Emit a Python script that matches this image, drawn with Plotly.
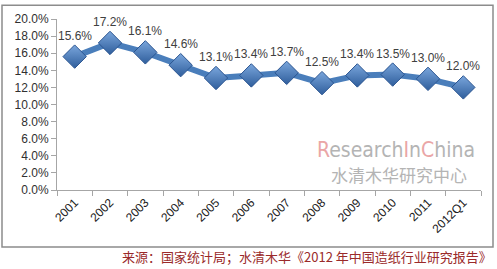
import plotly.graph_objects as go

categories = ["2001", "2002", "2003", "2004", "2005", "2006", "2007", "2008", "2009", "2010", "2011", "2012Q1"]
values = [0.156, 0.172, 0.161, 0.146, 0.131, 0.134, 0.137, 0.125, 0.134, 0.135, 0.130, 0.120]
labels = [f"{v*100:.1f}%" for v in values]
y_ticks = [i * 0.02 for i in range(11)]
y_tick_labels = [f"{t*100:.1f}%" for t in y_ticks]
source_text = "来源：国家统计局；水清木华《2012 年中国造纸行业研究报告》"

W, H = 497, 269
L, R, T, B = 57, 16, 16, 79
pw, ph = W - L - R, H - T - B

def px(x):
    return (x - L) / pw

def py(y):
    return (H - B - y) / ph

fig = go.Figure()
fig.add_trace(go.Scatter(
    x=categories, y=values,
    mode="lines+markers",
    line=dict(color="#4a7ebb", width=6),
    marker=dict(symbol="diamond", size=18, color="#7aa6dc",
                gradient=dict(type="vertical", color="#2f5e9c"),
                line=dict(color="#2b5591", width=1)),
    cliponaxis=False, hoverinfo="skip", showlegend=False,
))

annotations = []
for i, (v, lab) in enumerate(zip(values, labels)):
    annotations.append(dict(x=i, y=v, text=lab, showarrow=False, yshift=21,
                            xanchor="center", yanchor="middle",
                            font=dict(family="Liberation Sans", size=12, color="#404040")))

annotations += [
    dict(xref="paper", yref="paper", x=px(396), y=py(149), xanchor="center", yanchor="middle",
         showarrow=False,
         text="<span style='color:#eaa6a6'>R</span>esearch<span style='color:#eaa6a6'>I</span>n<span style='color:#eaa6a6'>C</span>hina",
         font=dict(family="DejaVu Sans Condensed, Liberation Sans", size=21, color="#b4b4b4")),
    dict(xref="paper", yref="paper", x=px(399), y=py(174), xanchor="center", yanchor="middle",
         showarrow=False, text="水清木华研究中心",
         font=dict(family="Noto Sans CJK SC", size=17, color="#b4b4b4")),
    dict(xref="paper", yref="paper", x=px(494), y=py(258), xanchor="right", yanchor="middle",
         showarrow=False, text=source_text,
         font=dict(family="Noto Sans CJK SC", size=13, color="#9a2a2a")),
]

fig.update_layout(
    width=W, height=H,
    margin=dict(l=L, r=R, t=T, b=B),
    paper_bgcolor="white", plot_bgcolor="white",
    font=dict(family="Liberation Sans", color="#404040"),
    xaxis=dict(
        type="category", range=[-0.5, len(categories) - 0.5],
        showgrid=False, showline=True, linecolor="#a6a6a6", linewidth=1,
        ticks="outside", ticklen=5, tickcolor="#a6a6a6",
        tickson="boundaries", tickangle=-45,
        tickfont=dict(family="Liberation Sans", size=12, color="#202020"),
    ),
    yaxis=dict(
        range=[0, 0.2], tickvals=y_ticks, ticktext=y_tick_labels,
        showgrid=False, zeroline=False, showline=True, linecolor="#a6a6a6", linewidth=1,
        ticks="outside", ticklen=5, tickcolor="#a6a6a6",
        tickfont=dict(family="Liberation Sans", size=12, color="#303030"),
    ),
    shapes=[dict(type="rect", xref="paper", yref="paper",
                 x0=px(2), x1=px(493), y0=py(248), y1=py(2),
                 line=dict(color="#8c8c8c", width=1.5), layer="below")],
    annotations=annotations,
)

fig.write_html("out.html")
